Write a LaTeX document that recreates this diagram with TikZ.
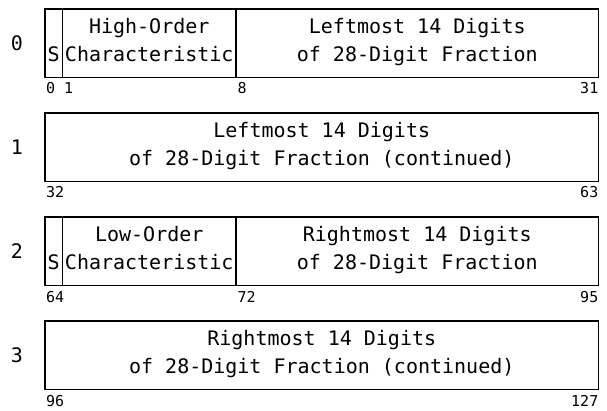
\documentclass[tikz,border=0pt]{standalone}
\usepackage{fontspec}
\setmonofont{DejaVu Sans Mono}
\tikzset{
  field/.style    = {draw, line width=1.6pt},
  fieldtext/.style= {font=\ttfamily\fontsize{20}{28.4}\selectfont, align=center, anchor=base, inner sep=0pt},
  signtext/.style = {font=\ttfamily\fontsize{20}{20}\selectfont, anchor=base, inner sep=0pt},
  bitno/.style    = {font=\ttfamily\fontsize{15}{15}\selectfont, inner sep=0pt},
  rowno/.style    = {font=\ttfamily\fontsize{20}{20}\selectfont, inner sep=0pt},
}
\begin{document}
\begin{tikzpicture}[x=1pt, y=-1pt]
\def\L{45}
\def\R{598.5}
\def\Sx{62.5}
\def\Cx{236}
\def\H{68.5}
\useasboundingbox (0,0) rectangle (607,411);

  % word 0
  \draw[field] (\L,9) rectangle (\R,9+\H);
  \draw[field] (\Sx,9) -- (\Sx,9+\H) (\Cx,9) -- (\Cx,9+\H);
  \node[rowno] (r0) at (17,43) {0};
  \node[signtext] (s0) at ({(\L+\Sx)/2},61.7) {S};
  \node[fieldtext] (hoc) at ({(\Sx+\Cx)/2},61.7) {High-Order\\Characteristic};
  \node[fieldtext] (lf) at ({(\Cx+\R)/2},61.7) {Leftmost 14 Digits\\of 28-Digit Fraction};
  \node[bitno, anchor=base west] (b0) at (46,94) {0};
  \node[bitno, anchor=base west] (b1) at (64,94) {1};
  \node[bitno, anchor=base west] (b8) at (\Cx+1.5,94) {8};
  \node[bitno, anchor=base east] (b31) at (\R,94) {31};

  % word 1
  \draw[field] (\L,113) rectangle (\R,113+\H);
  \node[rowno] (r1) at (17,147) {1};
  \node[fieldtext] (lfc) at ({(\L+\R)/2},165.7) {Leftmost 14 Digits\\of 28-Digit Fraction (continued)};
  \node[bitno, anchor=base west] (b32) at (46,198) {32};
  \node[bitno, anchor=base east] (b63) at (\R,198) {63};

  % word 2
  \draw[field] (\L,217) rectangle (\R,217+\H);
  \draw[field] (\Sx,217) -- (\Sx,217+\H) (\Cx,217) -- (\Cx,217+\H);
  \node[rowno] (r2) at (17,251) {2};
  \node[signtext] (s2) at ({(\L+\Sx)/2},269.7) {S};
  \node[fieldtext] (loc) at ({(\Sx+\Cx)/2},269.7) {Low-Order\\Characteristic};
  \node[fieldtext] (rf) at ({(\Cx+\R)/2},269.7) {Rightmost 14 Digits\\of 28-Digit Fraction};
  \node[bitno, anchor=base west] (b64) at (46,302) {64};
  \node[bitno, anchor=base west] (b72) at (\Cx+1.5,302) {72};
  \node[bitno, anchor=base east] (b95) at (\R,302) {95};

  % word 3
  \draw[field] (\L,321) rectangle (\R,321+\H);
  \node[rowno] (r3) at (17,355) {3};
  \node[fieldtext] (rfc) at ({(\L+\R)/2},373.7) {Rightmost 14 Digits\\of 28-Digit Fraction (continued)};
  \node[bitno, anchor=base west] (b96) at (46,406) {96};
  \node[bitno, anchor=base east] (b127) at (\R,406) {127};
\end{tikzpicture}
\end{document}
